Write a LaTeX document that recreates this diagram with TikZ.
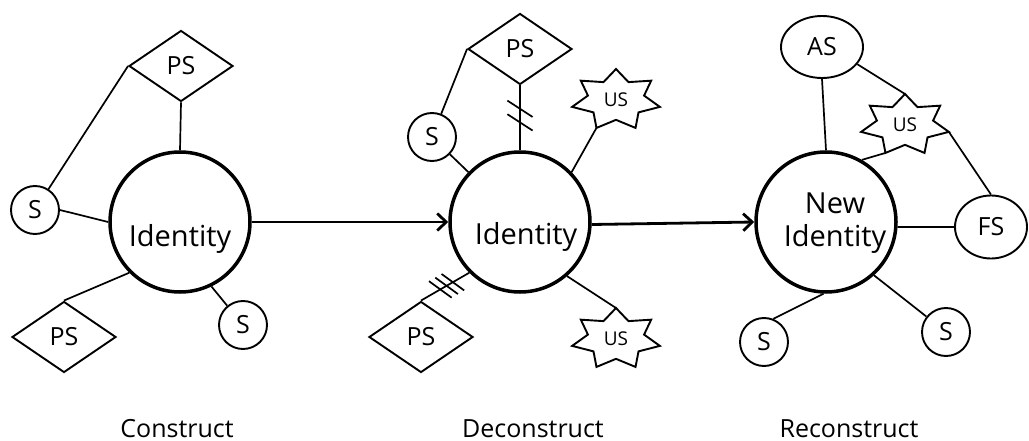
\documentclass[tikz,border=0pt]{standalone}
\usepackage{fontspec}
\setmainfont{Open Sans}
\usetikzlibrary{shapes.geometric,arrows.meta,decorations.markings}

% seven-pointed "US" star drawn around a text node; the outer points
% are named <node>-0 (top), <node>-2, ... going counter-clockwise
\newcommand\usstar[1]{%
  \draw[starline, shift={(#1.center)}] (0,-31) coordinate (#1-0)
    \foreach \k [evaluate=\k as \starang using 90+360/14*\k,
                 evaluate=\k as \starrad using 0.82+0.18*cos(180*\k)] in {1,...,13}
      { -- ({45*\starrad*cos(\starang)},{-31*\starrad*sin(\starang)}) coordinate (#1-\k) }
    -- cycle;}

\tikzset{
  every node/.style={font=\fontsize{25}{30}\selectfont},
  hub/.style={circle, draw, line width=3.5pt, minimum size=140pt, inner sep=0pt},
  hubtext/.style={font=\fontsize{29}{33.5}\selectfont, align=center},
  small/.style={circle, draw, line width=1.9pt, minimum size=48pt, inner sep=0pt},
  ps/.style={diamond, draw, line width=1.9pt, minimum width=104pt, minimum height=71pt, inner sep=0pt},
  oval/.style={ellipse, draw, line width=1.9pt, inner sep=0pt},
  ustext/.style={font=\fontsize{19}{22}\selectfont, inner sep=0pt},
  starline/.style={line width=1.9pt, line join=miter},
  link/.style={line width=1.7pt},
  flow/.style={line width=2.8pt, -{Straight Barb[length=9pt,width=17pt]}},
  stage/.style={anchor=base},
  cuttwo/.style={postaction={decorate}, decoration={markings,
      mark=at position 0.43 with {\draw[link] (237:15pt) -- (57:15pt);},
      mark=at position 0.64 with {\draw[link] (237:15pt) -- (57:15pt);}}},
  cutthree/.style={postaction={decorate}, decoration={markings,
      mark=at position 0.34 with {\draw[link] (294:14pt) -- (114:14pt);},
      mark=at position 0.47 with {\draw[link] (294:14pt) -- (114:14pt);},
      mark=at position 0.60 with {\draw[link] (294:14pt) -- (114:14pt);}}},
}

\begin{document}
\begin{tikzpicture}[x=1pt, y=-1pt]
\useasboundingbox (0,0) rectangle (1029,441);

% ---------- Construct ----------
\node[hub, label={[hubtext, anchor=base, yshift=-17pt]center:Identity}] (id1) at (180,222) {};
\node[ps] (ps1a) at (181,66) {PS};
\node[small] (s1a) at (35,210) {S};
\node[ps] (ps1b) at (64,337) {PS};
\node[small] (s1b) at (243,325) {S};

\draw[link] (ps1a.south) -- (id1.north);
\draw[link] (ps1a.west) -- (s1a);
\draw[link] (s1a.east) -- (id1.west);
\draw[link] (ps1b.north) -- (id1.225);
\draw[link] (id1.-64) -- (s1b);

\node[stage] (c1) at (177,437) {Construct};

% ---------- Deconstruct ----------
\node[hub, label={[hubtext, anchor=base, xshift=6pt, yshift=-15pt]center:Identity}] (id2) at (520,222) {};
\node[ps] (ps2a) at (520,49) {PS};
\node[small] (s2) at (432,137) {S};
\node[ustext] (us2a) at (616,100) {US};
\usstar{us2a}
\node[ps] (ps2b) at (421,337) {PS};
\node[ustext] (us2b) at (616,339) {US};
\usstar{us2b}

\draw[link, cuttwo] (id2.north) -- (ps2a.south);
\draw[link] (ps2a.west) -- (s2);
\draw[link] (s2) -- (id2);
\draw[link] (id2.44) -- (us2a-6);
\draw[link, cutthree] (id2.225) -- (ps2b.north);
\draw[link] (id2.-49) -- (us2b-0);

\node[stage] (c2) at (533,437) {Deconstruct};

% ---------- Reconstruct ----------
\node[hub, label={[hubtext, xshift=9pt, yshift=-1pt]center:New\\Identity}] (id3) at (826,222) {};
\node[oval, minimum width=82pt, minimum height=62pt] (as3) at (822,47) {AS};
\node[ustext] (us3) at (905,125) {US};
\usstar{us3}
\node[oval, minimum width=72pt, minimum height=63pt] (fs3) at (991,227) {FS};
\node[small] (s3a) at (764,342) {S};
\node[small] (s3b) at (946,332) {S};

\draw[link] (as3.south) -- (id3.north);
\draw[link] (as3.-26) -- (us3-0);
\draw[link] (id3.60) -- (us3-6);
\draw[link] (us3-10) -- (fs3.north);
\draw[link] (id3.-4) -- (fs3.west);
\draw[link] (id3.268) -- (s3a.68);
\draw[link] (id3.-48) -- (s3b);

\node[stage] (c3) at (849,437) {Reconstruct};

% ---------- stage arrows ----------
\draw[flow] (id1.east) -- (id2.west);
\draw[flow] (id2.-2) -- (id3.west);
\end{tikzpicture}
\end{document}
